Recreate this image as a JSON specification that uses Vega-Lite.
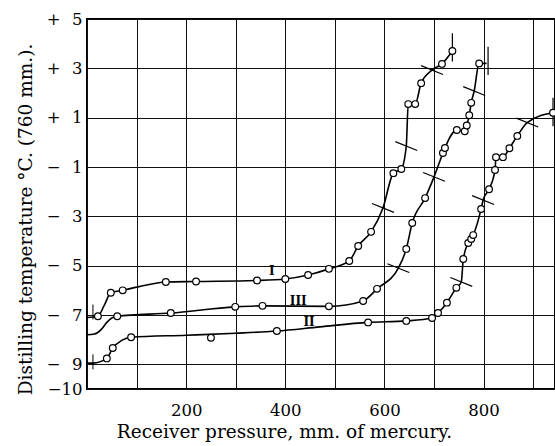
{
  "$schema": "https://vega.github.io/schema/vega-lite/v6.json",
  "width": 468,
  "height": 370,
  "autosize": {"type": "none"},
  "padding": {"left": 87, "top": 19, "right": 0, "bottom": 57},
  "background": "white",
  "config": {"view": {"stroke": "black", "strokeWidth": 2}, "font": "DejaVu Serif"},
  "data": {"values": [
    {"curve": "I", "P": 0, "T": -7.1, "kind": "path"},
    {"curve": "I", "P": 12, "T": -7.08, "kind": "path"},
    {"curve": "I", "P": 12, "T": -6.88, "kind": "start"},
    {"curve": "I", "P": 22, "T": -7.05, "kind": "obs"},
    {"curve": "I", "P": 35, "T": -6.6, "kind": "path"},
    {"curve": "I", "P": 48, "T": -6.1, "kind": "obs"},
    {"curve": "I", "P": 72, "T": -6.0, "kind": "obs"},
    {"curve": "I", "P": 105, "T": -5.85, "kind": "path"},
    {"curve": "I", "P": 159, "T": -5.66, "kind": "obs"},
    {"curve": "I", "P": 220, "T": -5.64, "kind": "obs"},
    {"curve": "I", "P": 343, "T": -5.6, "kind": "obs"},
    {"curve": "I", "P": 400, "T": -5.54, "kind": "obs"},
    {"curve": "I", "P": 446, "T": -5.38, "kind": "obs"},
    {"curve": "I", "P": 488, "T": -5.13, "kind": "obs"},
    {"curve": "I", "P": 529, "T": -4.81, "kind": "obs"},
    {"curve": "I", "P": 547, "T": -4.2, "kind": "obs"},
    {"curve": "I", "P": 573, "T": -3.63, "kind": "obs"},
    {"curve": "I", "P": 597, "T": -2.66, "kind": "cross"},
    {"curve": "I", "P": 618, "T": -1.25, "kind": "obs"},
    {"curve": "I", "P": 634, "T": -1.08, "kind": "obs"},
    {"curve": "I", "P": 644, "T": -0.15, "kind": "cross"},
    {"curve": "I", "P": 648, "T": 1.55, "kind": "obs"},
    {"curve": "I", "P": 662, "T": 1.55, "kind": "obs"},
    {"curve": "I", "P": 674, "T": 2.4, "kind": "obs"},
    {"curve": "I", "P": 696, "T": 2.93, "kind": "cross"},
    {"curve": "I", "P": 716, "T": 3.18, "kind": "obs"},
    {"curve": "I", "P": 737, "T": 3.7, "kind": "obs"},
    {"curve": "I", "P": 737, "T": 3.85, "kind": "end"},
    {"curve": "III", "P": 0, "T": -7.8, "kind": "path"},
    {"curve": "III", "P": 15, "T": -7.77, "kind": "path"},
    {"curve": "III", "P": 28, "T": -7.6, "kind": "path"},
    {"curve": "III", "P": 40, "T": -7.3, "kind": "path"},
    {"curve": "III", "P": 50, "T": -7.12, "kind": "path"},
    {"curve": "III", "P": 61, "T": -7.05, "kind": "obs"},
    {"curve": "III", "P": 169, "T": -6.92, "kind": "obs"},
    {"curve": "III", "P": 299, "T": -6.67, "kind": "obs"},
    {"curve": "III", "P": 354, "T": -6.63, "kind": "obs"},
    {"curve": "III", "P": 488, "T": -6.65, "kind": "obs"},
    {"curve": "III", "P": 557, "T": -6.43, "kind": "obs"},
    {"curve": "III", "P": 585, "T": -5.94, "kind": "obs"},
    {"curve": "III", "P": 628, "T": -5.1, "kind": "cross"},
    {"curve": "III", "P": 644, "T": -4.32, "kind": "obs"},
    {"curve": "III", "P": 656, "T": -3.27, "kind": "obs"},
    {"curve": "III", "P": 682, "T": -2.26, "kind": "obs"},
    {"curve": "III", "P": 700, "T": -1.4, "kind": "cross"},
    {"curve": "III", "P": 718, "T": -0.43, "kind": "obs"},
    {"curve": "III", "P": 722, "T": -0.23, "kind": "obs"},
    {"curve": "III", "P": 746, "T": 0.5, "kind": "obs"},
    {"curve": "III", "P": 762, "T": 0.45, "kind": "obs"},
    {"curve": "III", "P": 766, "T": 0.68, "kind": "obs"},
    {"curve": "III", "P": 771, "T": 1.1, "kind": "obs"},
    {"curve": "III", "P": 775, "T": 1.6, "kind": "obs"},
    {"curve": "III", "P": 781, "T": 2.08, "kind": "cross"},
    {"curve": "III", "P": 791, "T": 3.2, "kind": "obs"},
    {"curve": "III", "P": 806, "T": 3.2, "kind": "path"},
    {"curve": "III", "P": 809, "T": 3.3, "kind": "end"},
    {"curve": "II", "P": 0, "T": -8.95, "kind": "path"},
    {"curve": "II", "P": 12, "T": -8.95, "kind": "path"},
    {"curve": "II", "P": 12, "T": -8.9, "kind": "start"},
    {"curve": "II", "P": 40, "T": -8.76, "kind": "obs"},
    {"curve": "II", "P": 52, "T": -8.34, "kind": "obs"},
    {"curve": "II", "P": 70, "T": -8.03, "kind": "path"},
    {"curve": "II", "P": 89, "T": -7.9, "kind": "obs"},
    {"curve": "II", "P": 200, "T": -7.82, "kind": "path"},
    {"curve": "II", "P": 250, "T": -7.92, "kind": "obsoff"},
    {"curve": "II", "P": 300, "T": -7.74, "kind": "path"},
    {"curve": "II", "P": 383, "T": -7.65, "kind": "obs"},
    {"curve": "II", "P": 470, "T": -7.48, "kind": "path"},
    {"curve": "II", "P": 567, "T": -7.3, "kind": "obs"},
    {"curve": "II", "P": 644, "T": -7.24, "kind": "obs"},
    {"curve": "II", "P": 696, "T": -7.12, "kind": "obs"},
    {"curve": "II", "P": 708, "T": -6.92, "kind": "obs"},
    {"curve": "II", "P": 726, "T": -6.5, "kind": "obs"},
    {"curve": "II", "P": 745, "T": -5.9, "kind": "obs"},
    {"curve": "II", "P": 755, "T": -5.66, "kind": "cross"},
    {"curve": "II", "P": 759, "T": -4.73, "kind": "obs"},
    {"curve": "II", "P": 769, "T": -4.08, "kind": "obs"},
    {"curve": "II", "P": 775, "T": -3.92, "kind": "obs"},
    {"curve": "II", "P": 779, "T": -3.76, "kind": "obs"},
    {"curve": "II", "P": 795, "T": -2.7, "kind": "obs"},
    {"curve": "II", "P": 799, "T": -2.34, "kind": "cross"},
    {"curve": "II", "P": 811, "T": -1.9, "kind": "obs"},
    {"curve": "II", "P": 823, "T": -1.12, "kind": "obs"},
    {"curve": "II", "P": 825, "T": -0.6, "kind": "obs"},
    {"curve": "II", "P": 839, "T": -0.6, "kind": "obs"},
    {"curve": "II", "P": 852, "T": -0.24, "kind": "obs"},
    {"curve": "II", "P": 868, "T": 0.26, "kind": "obs"},
    {"curve": "II", "P": 888, "T": 0.8, "kind": "cross"},
    {"curve": "II", "P": 940, "T": 1.2, "kind": "obs"},
    {"curve": "II", "P": 940, "T": 1.23, "kind": "end"},
    {"curve": "I", "P": 373, "T": -5.2, "kind": "label", "name": "I"},
    {"curve": "III", "P": 426, "T": -6.42, "kind": "label", "name": "III"},
    {"curve": "II", "P": 448, "T": -7.3, "kind": "label", "name": "II"}
  ]},
  "encoding": {
    "x": {
      "field": "P", "type": "quantitative",
      "scale": {"domain": [0, 944], "nice": false, "zero": false},
      "axis": {
        "title": "Receiver pressure, mm. of mercury.",
        "values": [0, 100, 200, 300, 400, 500, 600, 700, 800, 900],
        "labelExpr": "datum.value > 0 && datum.value % 200 == 0 ? format(datum.value, 'd') : ''",
        "grid": true, "gridColor": "#111", "gridWidth": 1, "gridOpacity": 1,
        "domain": false, "ticks": false, "labelPadding": 13,
        "labelFont": "DejaVu Serif", "labelFontSize": 16.5, "labelColor": "black",
        "labelFlush": false, "labelOverlap": false,
        "titleFont": "DejaVu Serif", "titleFontSize": 18.5, "titleFontWeight": "normal", "titleColor": "black",
        "titleX": 197, "titleY": 42, "titleBaseline": "middle"
      }
    },
    "y": {
      "field": "T", "type": "quantitative",
      "scale": {"domain": [-10, 5], "nice": false, "zero": false},
      "axis": {
        "title": "Distilling temperature °C. (760 mm.).",
        "values": [5, 3, 1, -1, -3, -5, -7, -9, -10],
        "labelExpr": "datum.value > 0 ? '+\u2002\u2009' + datum.value : (datum.value == -10 ? '\u221210' : '\u2212\u2002\u2009' + abs(datum.value))",
        "grid": true, "gridColor": "#111", "gridWidth": 1, "gridOpacity": 1,
        "domain": false, "ticks": false, "labelPadding": 5,
        "labelFont": "DejaVu Serif", "labelFontSize": 16.5, "labelColor": "black",
        "labelFlush": false, "labelOverlap": false,
        "titleFont": "DejaVu Serif", "titleFontSize": 18.5, "titleFontWeight": "normal", "titleColor": "black",
        "titleX": -62, "titleY": 200, "titleBaseline": "middle"
      }
    }
  },
  "layer": [
    {
      "transform": [{"filter": "datum.kind == 'path' || datum.kind == 'obs' || datum.kind == 'cross'"}],
      "mark": {"type": "line", "interpolate": "monotone", "color": "black", "strokeWidth": 1.6, "clip": true},
      "encoding": {"detail": {"field": "curve"}}
    },
    {
      "transform": [{"filter": "datum.kind == 'cross'"}],
      "mark": {"type": "point", "shape": "stroke", "angle": 22, "size": 560, "stroke": "black", "strokeWidth": 1.2, "opacity": 1, "clip": true}
    },
    {
      "transform": [{"filter": "datum.kind == 'start'"}],
      "mark": {"type": "point", "shape": "stroke", "angle": 90, "size": 225, "stroke": "black", "strokeWidth": 1, "opacity": 1, "clip": true}
    },
    {
      "transform": [{"filter": "datum.kind == 'end'"}],
      "mark": {"type": "point", "shape": "stroke", "angle": 90, "size": 800, "stroke": "black", "strokeWidth": 1.2, "opacity": 1, "clip": true}
    },
    {
      "transform": [{"filter": "datum.kind == 'obs' || datum.kind == 'obsoff'"}],
      "mark": {"type": "point", "shape": "circle", "filled": true, "fill": "white", "stroke": "black", "strokeWidth": 1.2, "size": 45, "opacity": 1, "clip": true}
    },
    {
      "transform": [{"filter": "datum.kind == 'label'"}],
      "mark": {"type": "text", "font": "DejaVu Serif", "fontWeight": "bold", "fontSize": 12, "color": "black"},
      "encoding": {"text": {"field": "name"}}
    }
  ]
}
